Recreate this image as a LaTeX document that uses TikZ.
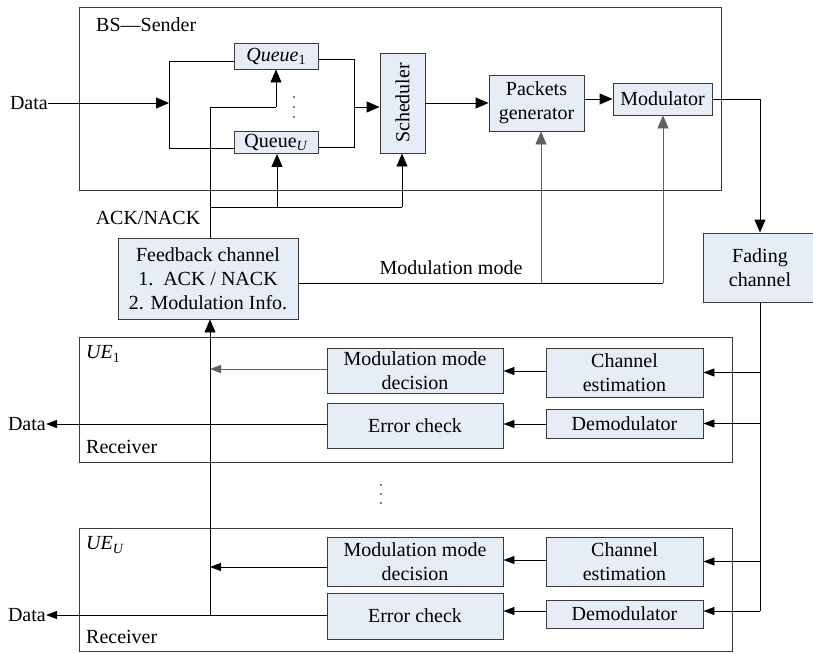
\documentclass[tikz,border=0pt]{standalone}
\usepackage{fontspec}
\setmainfont{Liberation Serif}
\usetikzlibrary{arrows.meta}
\definecolor{boxfill}{HTML}{E6EDF7}
\definecolor{boxline}{HTML}{3A3A3A}
\definecolor{lgray}{HTML}{606060}
\newcommand\mysub[1]{\raisebox{-0.35ex}{\fontsize{14}{14}\selectfont #1}}
\tikzset{
  blk/.style={draw=boxline, fill=boxfill, line width=0.9pt, inner sep=0pt, align=center, font=\fontsize{20}{24}\selectfont},
  cont/.style={draw=boxline, line width=0.9pt},
  lbl/.style={inner sep=0pt, font=\fontsize{20}{24}\selectfont},
  ln/.style={line width=0.9pt, draw=black},
  gln/.style={line width=0.9pt, draw=lgray},
  arr/.style={ln, -{Triangle[length=13pt,width=11pt]}},
  garr/.style={gln, -{Triangle[length=13pt,width=11pt]}},
  sarr/.style={ln, -{Triangle[length=11pt,width=8pt]}},
  gsarr/.style={gln, -{Triangle[length=11pt,width=8pt]}},
  dotm/.style={fill=black, circle, inner sep=0pt, minimum size=1.6pt}
}
\begin{document}
\begin{tikzpicture}[x=1pt,y=-1pt]
\clip (0,0) rectangle (813,653);
\fill[white] (0,0) rectangle (813,653);
% containers
\draw[cont] (79,7) rectangle (721,190);
\draw[cont] (79,337) rectangle (732,462);
\draw[cont] (79,528) rectangle (732,651);
\node[lbl, anchor=west] (bs) at (96,25) {BS---Sender};
\node[lbl, anchor=west] (ue1) at (86,354) {\textit{UE}\mysub{1}};
\node[lbl, anchor=west] (rc1) at (86,447) {Receiver};
\node[lbl, anchor=west] (ueu) at (86,545) {\textit{UE}\mysub{\textit{U}}};
\node[lbl, anchor=west] (rcu) at (86,637) {Receiver};
% blocks
\node[blk, minimum width=84pt, minimum height=26pt] (q1) at (276,56) {\textit{Queue}\mysub{1}};
\node[blk, minimum width=84pt, minimum height=22pt] (qu) at (276,142.5) {Queue\mysub{\textit{U}}};
\node[blk, minimum width=45pt, minimum height=100pt] (sch) at (402.5,103) {};
\node[lbl, rotate=90] (scht) at (402.5,103) {Scheduler};
\node[blk, minimum width=95pt, minimum height=56pt] (pg) at (536.5,103) {Packets\\generator};
\node[blk, minimum width=99pt, minimum height=32pt] (mod) at (662.5,99) {Modulator};
\node[blk, minimum width=114pt, minimum height=69pt] (fad) at (760,267.5) {};
\node[lbl, align=center] (fadt) at (760,267.5) {Fading\\channel};
\node[blk, minimum width=180pt, minimum height=81pt] (fb) at (208,278.5) {Feedback channel\\1.\ \ ACK / NACK\\2. Modulation Info.};
\node[blk, minimum width=176pt, minimum height=45pt] (mm1) at (415,370.5) {Modulation mode\\decision};
\node[blk, minimum width=176pt, minimum height=45pt] (ec1) at (415,425.5) {Error check};
\node[blk, minimum width=157pt, minimum height=49pt] (ce1) at (624.5,372.5) {Channel\\estimation};
\node[blk, minimum width=157pt, minimum height=29pt] (dm1) at (624.5,423.5) {Demodulator};
\node[blk, minimum width=176pt, minimum height=49pt] (mmu) at (415,561.5) {Modulation mode\\decision};
\node[blk, minimum width=176pt, minimum height=46pt] (ecu) at (415,616) {Error check};
\node[blk, minimum width=157pt, minimum height=49pt] (ceu) at (624.5,561.5) {Channel\\estimation};
\node[blk, minimum width=157pt, minimum height=28pt] (dmu) at (624.5,614) {Demodulator};
% text labels
\node[lbl, anchor=east] (din) at (48,103) {Data};
\node[lbl, anchor=east] (do1) at (46,424) {Data};
\node[lbl, anchor=east] (dou) at (46,615) {Data};
\node[lbl] (ack) at (148,218) {ACK/NACK};
\node[lbl] (mml) at (451,268) {Modulation mode};
% dots
\node[dotm] (d1) at (294,97) {};
\node[dotm] (d2) at (294,107) {};
\node[dotm] (d3) at (294,117) {};
\node[dotm] (d4) at (381,485) {};
\node[dotm] (d5) at (381,494) {};
\node[dotm] (d6) at (381,503) {};
% coordinates
\coordinate (jin) at (169,103);
\coordinate (jt) at (169,61);
\coordinate (jb) at (169,148);
\coordinate (ot) at (354,59);
\coordinate (ob) at (354,147);
\coordinate (om) at (354,107);
\coordinate (fa) at (210,107);
\coordinate (fb2) at (210,207);
\coordinate (fs) at (402,207);
\coordinate (fq) at (277,207);
\coordinate (mmr) at (663,283);
\coordinate (mmp) at (541,283);
\coordinate (rv) at (760,611);
\coordinate (vb) at (210,615);
% sender side
\draw[arr] (din.east) -- (jin);
\draw[ln] (jt) -- (jb);
\draw[ln] (jt) -- (jt -| q1.west);
\draw[ln] (jb) -- (jb -| qu.west);
\draw[ln] (ot -| q1.east) -- (ot) -- (ob) -- (ob -| qu.east);
\draw[arr] (om) -- (om -| sch.west);
\draw[arr] (sch.east) -- (pg.west);
\draw[arr] (pg.east |- mod.west) -- (mod.west);
\draw[arr] (mod.east) -| (fad.north);
% feedback ACK/NACK
\draw[ln] (fb.north -| fa) -- (fa) -- (fa -| q1.south);
\draw[arr] (fa -| q1.south) -- (q1.south);
\draw[ln] (fb2) -- (fs);
\draw[arr] (fq) -- (fq |- qu.south);
\draw[arr] (fs) -- (fs |- sch.south);
% modulation mode
\draw[ln] (fb.east |- mmr) -- (mmr);
\draw[garr] (mmp) -- (mmp |- pg.south);
\draw[garr] (mmr) -- (mmr |- mod.south);
% receiver side
\draw[ln] (fad.south) -- (rv);
\draw[sarr] (rv |- ce1.east) -- (ce1.east);
\draw[sarr] (rv |- dm1.east) -- (dm1.east);
\draw[sarr] (rv |- ceu.east) -- (ceu.east);
\draw[sarr] (rv) -- (rv -| dmu.east);
\draw[sarr] (ce1.west |- 0,371) -- (mm1.east |- 0,371);
\draw[sarr] (dm1.west |- 0,424) -- (ec1.east |- 0,424);
\draw[sarr] (ceu.west |- 0,560) -- (mmu.east |- 0,560);
\draw[sarr] (dmu.west |- 0,611) -- (ecu.east |- 0,611);
\draw[gsarr] (mm1.west |- 0,369) -- (210,369);
\draw[sarr] (mmu.west |- 0,567) -- (210,567);
\draw[sarr] (ec1.west |- 0,424) -- (do1.east);
\draw[sarr] (ecu.west |- 0,615) -- (dou.east);
\draw[arr] (vb) -- (fb.south -| vb);
\end{tikzpicture}
\end{document}
